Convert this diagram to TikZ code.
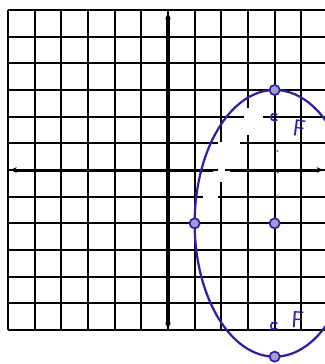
\documentclass[tikz,border=0pt]{standalone}
\usetikzlibrary{arrows.meta}
\definecolor{pen}{RGB}{45,35,160}
\definecolor{speck}{RGB}{110,110,140}
\begin{document}
\begin{tikzpicture}[x=1cm,y=1cm,
  gridline/.style={line width=1.9pt,black},
  axisline/.style={line width=3.2pt,draw=black,-{Stealth[length=7pt,width=6pt]}},
  yaxisline/.style={line width=3.8pt,draw=black,-{Stealth[length=7pt,width=6pt]}},
  erase/.style={fill=white,draw=none},
  curve/.style={draw=pen,line width=2.4pt},
  pt/.style={circle,draw=pen,line width=1.8pt,fill=pen!45,minimum size=0.38cm,inner sep=0pt},
  focusmark/.style={draw=pen,line width=1.8pt},
  dotmark/.style={circle,fill=speck,minimum size=2.4pt,inner sep=0pt},
  flabel/.style={text=pen,font=\sffamily\fontsize{25}{25}\selectfont,inner sep=0pt}]
\useasboundingbox (-6.30,-7.275) rectangle (5.887,6.375);
\clip (-6.30,-7.275) rectangle (5.887,6.375);
% grid
\draw[gridline] (-6,-6) grid (6,6);
% erased patches
\fill[erase] (1.86,-0.45) rectangle (2.14,1.05);
\fill[erase] (2.86,1.31) rectangle (3.14,2.32);
\fill[erase] (2.95,1.86) rectangle (3.56,2.14);
\fill[erase] (2.02,0.86) rectangle (2.70,1.14);
\fill[erase] (1.31,-1.14) rectangle (1.87,-0.86);
% axes
\coordinate (xl) at (-5.92,0);
\coordinate (xr) at (5.82,0);
\coordinate (yt) at (0,5.90);
\coordinate (yb) at (0,-5.97);
\coordinate (o) at (0,0);
\coordinate (gapL) at (1.69,0);
\coordinate (gapR) at (2.32,0);
\draw[axisline] (o) -- (xl);
\draw[line width=3.2pt] (o) -- (gapL);
\draw[axisline] (gapR) -- (xr);
\draw[yaxisline] (o) -- (yt);
\draw[yaxisline] (o) -- (yb);
% ellipse
\node[inner sep=0pt] (C) at (4,-2) {};
\draw[curve] (C) ellipse [x radius=3, y radius=5];
% points
\node[pt] (V1) at (4,3) {};
\node[pt] (V2) at (4,-7) {};
\node[pt] (W1) at (1,-2) {};
\node[pt] (Ctr) at (4,-2) {};
% foci
\coordinate (F1) at (4,1.98);
\coordinate (F2) at (4,-5.85);
\draw[focusmark] (F1) ++(0.1,0.09) arc[start angle=40,end angle=320,radius=0.14];
\draw[focusmark] (F2) ++(0.1,0.09) arc[start angle=40,end angle=320,radius=0.14];
\node[flabel,rotate=-8] (FL1) at (4.92,1.55) {F};
\node[flabel,rotate=-4] (FL2) at (4.86,-5.62) {F};
% specks
\node[dotmark] (d1) at (4.1,0.72) {};
\node[dotmark] (d2) at (4.12,-0.1) {};
\node[dotmark] (d3) at (4.12,-0.98) {};
\end{tikzpicture}
\end{document}
